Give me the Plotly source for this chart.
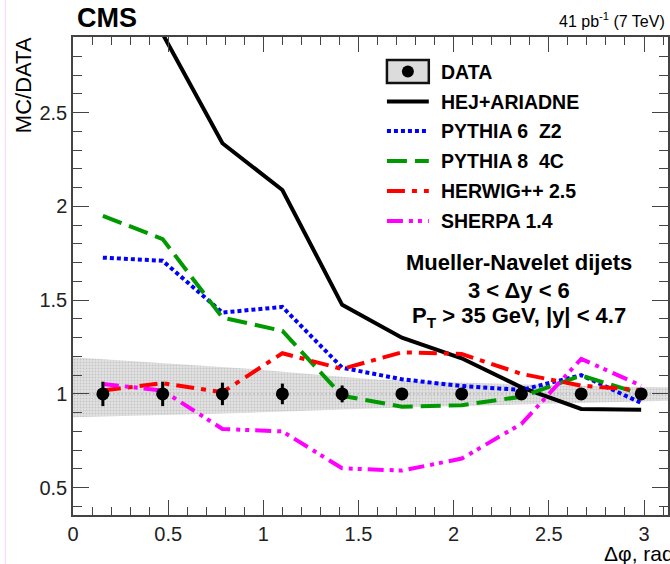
import plotly.graph_objects as go

# ---------------- data ----------------
DPHI = [0.157, 0.471, 0.785, 1.100, 1.414, 1.728, 2.042, 2.356, 2.670, 2.985]
DATA_VAL = [1.0, 1.0, 1.0, 1.0, 1.0, 1.0, 1.0, 1.0, 1.0, 1.0]
DATA_ERR = [0.065, 0.065, 0.06, 0.055, 0.045, 0.03, 0.025, 0.025, 0.025, 0.02]

BAND_X = [0.0, 0.314, 0.628, 0.942, 1.257, 1.571, 1.885, 2.199, 2.513, 2.827, 3.1416]
BAND_UP = [1.195, 1.175, 1.155, 1.133, 1.105, 1.078, 1.065, 1.055, 1.047, 1.040, 1.035]
BAND_LO = [0.875, 0.883, 0.891, 0.900, 0.910, 0.922, 0.932, 0.942, 0.950, 0.957, 0.964]

HEJ = [3.60, 2.92, 2.337, 2.088, 1.475, 1.30, 1.19, 1.035, 0.92, 0.915]
PY6 = [1.727, 1.71, 1.434, 1.464, 1.14, 1.078, 1.042, 1.021, 1.10, 0.952]
PY8 = [1.95, 1.826, 1.407, 1.336, 0.99, 0.932, 0.94, 0.985, 1.098, 1.0]
HERWIG = [1.018, 1.057, 1.009, 1.217, 1.133, 1.222, 1.213, 1.107, 1.044, 1.021]
SHERPA = [1.053, 1.018, 0.813, 0.80, 0.603, 0.591, 0.655, 0.84, 1.187, 1.044]

REF_LINE = 1.0
X_RANGE = [0.0, 3.126]
Y_RANGE = [0.354, 2.904]
X_TICKS = [0, 0.5, 1, 1.5, 2, 2.5, 3]
X_TICKTEXT = ["0", "0.5", "1", "1.5", "2", "2.5", "3"]
Y_TICKS = [0.5, 1, 1.5, 2, 2.5]
Y_TICKTEXT = ["0.5", "1", "1.5", "2", "2.5"]

SERIES = [
    ("HEJ+ARIADNE", HEJ, "#000000", "solid"),
    ("PYTHIA 6  Z2", PY6, "#0000ff", "4px,3px"),
    ("PYTHIA 8  4C", PY8, "#009900", "20px,8px"),
    ("HERWIG++ 2.5", HERWIG, "#ff0000", "18px,7px,5px,7px"),
    ("SHERPA 1.4", SHERPA, "#ff00ff", "16px,6px,4px,5px,4px,6px"),
]

# ---------------- layout geometry ----------------
W, H = 670, 564
ML, MR, MT, MB = 73, 0, 37, 49
PW, PH = W - ML - MR, H - MT - MB


def px(x):
    return (x - ML) / PW


def py(y):
    return (H - MB - y) / PH


FONT = "Liberation Sans, Arial, Helvetica, sans-serif"

fig = go.Figure()

# uncertainty band
fig.add_trace(go.Scatter(
    x=BAND_X + BAND_X[::-1], y=BAND_UP + BAND_LO[::-1],
    fill="toself", mode="lines", line=dict(width=0, color="rgba(0,0,0,0)"),
    fillcolor="#dedede",
    fillpattern=dict(shape=".", bgcolor="#e2e2e2", fgcolor="#a8a8a8", size=3, solidity=0.35),
    showlegend=False, hoverinfo="skip"))

# dotted reference line at 1
fig.add_trace(go.Scatter(
    x=[X_RANGE[0], 3.1416], y=[REF_LINE, REF_LINE], mode="lines",
    line=dict(color="#b0b0b0", width=1, dash="2px,2px"),
    showlegend=False, hoverinfo="skip"))

for name, vals, col, dash in SERIES:
    fig.add_trace(go.Scatter(
        x=DPHI, y=vals, mode="lines", name=name,
        line=dict(color=col, width=4, dash=dash),
        showlegend=False))

fig.add_trace(go.Scatter(
    x=DPHI, y=DATA_VAL, mode="markers", name="DATA",
    marker=dict(color="black", size=13, symbol="circle"),
    error_y=dict(type="data", array=DATA_ERR, color="black", thickness=3, width=0),
    showlegend=False))

shapes = []
annotations = []

# custom legend
LEG_X0, LEG_X1, LEG_TX = 388, 430, 440
LEG_Y = [71.5, 101.5, 131, 161, 191, 221]
LEG_NAMES = ["DATA"] + [s[0] for s in SERIES]

# DATA box
shapes.append(dict(
    type="rect", xref="paper", yref="paper", x0=px(LEG_X0), x1=px(LEG_X1), y0=py(83), y1=py(60),
    line=dict(color="#111111", width=2.5), fillcolor="#dcdcdc", layer="above"))
shapes.append(dict(
    type="circle", xref="paper", yref="paper",
    x0=px(403), x1=px(415), y0=py(77.5), y1=py(65.5),
    line=dict(color="black", width=0), fillcolor="black", layer="above"))

for (name, vals, col, dash), yy in zip(SERIES, LEG_Y[1:]):
    shapes.append(dict(
        type="line", xref="paper", yref="paper",
        x0=px(LEG_X0), x1=px(LEG_X1), y0=py(yy), y1=py(yy),
        line=dict(color=col, width=4, dash=dash), layer="above"))

for name, yy in zip(LEG_NAMES, LEG_Y):
    annotations.append(dict(
        text="<b>%s</b>" % name, xref="paper", yref="paper",
        x=px(LEG_TX), y=py(yy), xanchor="left", yanchor="middle",
        showarrow=False, font=dict(family=FONT, size=19.5, color="black")))

# info text block
INFO = ["Mueller-Navelet dijets", "3 &lt; Δy &lt; 6", "P<sub>T</sub> &gt; 35 GeV, |y| &lt; 4.7"]
INFO_Y = [262, 290, 317]
for t, yy in zip(INFO, INFO_Y):
    annotations.append(dict(
        text="<b>%s</b>" % t, xref="paper", yref="paper",
        x=px(520), y=py(yy), xanchor="center", yanchor="middle",
        showarrow=False, font=dict(family=FONT, size=22, color="black")))

# CMS label and lumi
annotations.append(dict(
    text="<b>CMS</b>", xref="paper", yref="paper", x=px(75), y=py(18),
    xanchor="left", yanchor="middle", showarrow=False,
    font=dict(family=FONT, size=27, color="black")))
annotations.append(dict(
    text="41 pb<sup>-1</sup> (7 TeV)", xref="paper", yref="paper", x=px(669), y=py(20),
    xanchor="right", yanchor="middle", showarrow=False,
    font=dict(family=FONT, size=16, color="black")))

# axis titles
annotations.append(dict(
    text="MC/DATA", xref="paper", yref="paper", x=px(23), y=py(35),
    xanchor="center", yanchor="top", textangle=-90, showarrow=False,
    font=dict(family=FONT, size=22, color="black")))
annotations.append(dict(
    text="Δφ, rad", xref="paper", yref="paper", x=px(604), y=py(553),
    xanchor="left", yanchor="middle", showarrow=False,
    font=dict(family=FONT, size=21, color="black")))

# faint pink edge artifact
shapes.append(dict(type="line", xref="paper", yref="paper",
                   x0=px(5), x1=px(5), y0=py(0), y1=py(H),
                   line=dict(color="#f3d6f3", width=1)))

AX = "#444444"
fig.update_layout(
    width=W, height=H,
    margin=dict(l=ML, r=MR, t=MT, b=MB, pad=0),
    paper_bgcolor="white", plot_bgcolor="white",
    showlegend=False,
    shapes=shapes, annotations=annotations,
    font=dict(family=FONT, size=20, color="#222222"),
    xaxis=dict(range=X_RANGE, tickvals=X_TICKS, ticktext=X_TICKTEXT,
               ticks="inside", ticklen=15, tickwidth=1, tickcolor=AX,
               showline=True, linecolor=AX, linewidth=1.5, mirror="ticks",
               showgrid=False, zeroline=False,
               minor=dict(dtick=0.1, ticklen=8, tickcolor=AX, ticks="inside", showgrid=False),
               tickfont=dict(family=FONT, size=20, color="#222222")),
    yaxis=dict(range=Y_RANGE, tickvals=Y_TICKS, ticktext=Y_TICKTEXT,
               ticks="inside", ticklen=16, tickwidth=1, tickcolor=AX,
               showline=True, linecolor=AX, linewidth=1.5, mirror="ticks",
               showgrid=False, zeroline=False,
               minor=dict(dtick=0.1, tick0=0, ticklen=9, tickcolor=AX, ticks="inside", showgrid=False),
               tickfont=dict(family=FONT, size=20, color="#222222")),
)

fig.write_html("out.html")
